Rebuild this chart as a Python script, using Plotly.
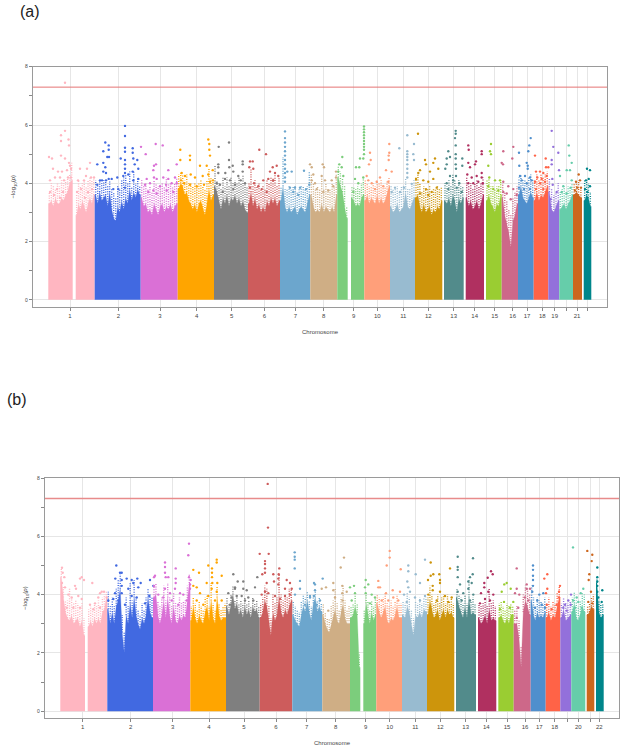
import plotly.graph_objects as go

CHROMS = [str(i) for i in range(1, 23)]
COLORS = ["#FFB6C1", "#4169E1", "#DA70D6", "#FFA500", "#7F7F7F", "#CD5C5C", "#6CA6CD", "#CFAE85", "#7CCD7C", "#FF9F7A", "#98BBD0",
          "#CD950C", "#528B8B", "#B03060", "#9ACD32", "#CD6889", "#4F8FCD", "#FF6347", "#9370DB", "#66CDAA", "#CD661D", "#00868B"]

# ---------- panel (a): tick positions, labels, contiguous blocks (chromosome index, start, end, solid-top profile)
A_TICKS = [70, 118.3, 160, 196.7, 231.7, 264.3, 295.3, 323.7, 353.7, 377.3, 403.3, 428.3, 453.7, 474.7, 494.7, 512.7, 527, 542.3, 554.7, 566, 577, 587.3]
A_LABELS = ["1","2","3","4","5","6","7","8","9","10","11","12","13","14","15","16","17","18","19","","21",""]
A_BLOCK_CHR = [0,0,1,2,3,4,5,6,7,8,8,9,10,11,12,13,14,15,16,17,18,19,20,21]
A_BLOCK_START = [48.3,75.7,94.7,140.7,177.7,214,248,280,310.3,337.3,351,364.3,390,415,444,465.7,486,501.7,518,533.7,548.3,559.3,573,583.7]
A_BLOCK_END = [72.7,94.7,140.7,177.7,214,248,280,310.3,337.3,347.7,364.3,390,415,442.3,463.7,484,501.7,518,533.7,548.3,559.3,573,582,591.3]
A_TOPS = [
 [3.3,3.4,3.2,3.5,3.3,3.3,3.5,3.4,3.6,3.7,4.0,4.1],
 [2.9,3.3,3.1,3.4,3.2,3.0,3.3,3.5,3.3,3.6],
 [3.6,3.3,3.7,3.4,3.5,3.6,3.2,3.7,3.1,2.8,2.7,3.2,3.0,3.4,3.1,3.5,3.3,3.8,3.4,3.7,3.5,3.8,3.6],
 [3.5,3.2,3.3,3.0,3.1,2.9,3.3,3.1,2.9,3.2,3.3,3.0,3.2,3.1,3.3,3.0,3.2,3.3],
 [3.8,4.0,3.9,3.6,3.7,3.4,3.3,3.1,3.3,3.0,3.3,3.4,3.1,2.9,3.3,3.8,3.4,3.6],
 [3.9,3.7,3.4,3.1,3.5,3.3,3.6,3.2,3.5,3.4,3.6,3.3,3.5,3.2,3.4,3.1,3.0],
 [3.3,3.7,3.2,3.5,3.1,3.3,3.0,3.2,3.0,3.4,3.2,3.5,3.3,3.5,3.2,3.4],
 [3.4,3.9,3.2,3.0,3.2,3.0,3.1,3.2,2.9,3.1,3.2,3.1,3.0,3.3,3.6],
 [3.6,3.2,3.0,3.1,3.0,3.3,3.0,3.2,3.1,3.0,3.2,3.0,3.6],
 [4.2,3.9,3.7,3.2,2.8],
 [3.5,3.4,3.2,3.3,3.2,3.5,3.6],
 [3.4,3.6,3.3,3.5,3.4,3.3,3.6,3.3,3.5,3.3,3.4,3.7,3.9],
 [3.2,3.0,3.1,3.3,3.0,3.1,3.2,3.7,3.2,3.1,3.3,3.5],
 [3.5,3.6,3.2,3.0,3.3,3.0,3.1,3.2,2.9,3.1,3.0,3.2,3.1,3.4],
 [3.4,3.3,3.5,3.2,3.6,3.4,3.0,3.5,3.3,3.5],
 [3.5,3.2,3.4,3.1,3.2,3.4,3.1,3.3,3.6],
 [3.4,3.6,3.3,3.2,3.0,3.3,3.2,3.6],
 [3.5,2.9,2.6,2.3,1.8,2.7,2.9,3.3],
 [3.6,3.9,3.5,3.4,3.3,3.5,3.7,3.5],
 [3.4,3.7,3.4,3.6,3.5,3.7,3.9],
 [3.7,3.1,3.0,3.2,3.4],
 [3.1,3.2,3.3,3.1,3.3,3.4,3.6],
 [3.6,3.7,3.6,3.5],
 [3.4,3.6,3.5,3.2],
]
# upper edge of the dense speckled band above the solid mass, same bins as the solid tops
A_BAND = [
 [3.7,4.0,3.9,3.8,4.0,3.9,4.1,4.0,4.1,4.2,4.3,4.7],
 [3.6,4.1,3.9,4.0,4.1,3.9,4.1,4.2,4.1,4.2],
 [4.1,3.9,4.1,4.0,4.1,4.1,3.9,4.1,3.8,3.7,3.5,3.9,3.8,4.1,4.2,4.3,4.0,4.4,3.9,4.4,4.0,4.2,3.9],
 [4.1,3.9,4.0,3.8,3.9,3.7,4.1,4.0,3.9,3.9,4.0,3.9,4.2,4.0,4.0,3.9,4.0,4.2],
 [4.3,4.4,4.3,4.1,4.3,4.0,4.0,3.9,4.0,3.9,4.0,4.1,3.9,3.8,4.1,4.5,4.2,4.1],
 [4.6,4.1,4.0,3.8,4.2,3.9,4.2,3.9,4.2,4.0,4.1,4.0,4.2,4.0,4.3,4.0,3.9],
 [4.0,4.5,3.9,4.1,3.9,4.0,3.8,3.9,3.8,4.1,4.0,4.2,4.2,4.4,3.9,4.2],
 [3.9,4.9,3.8,3.8,3.9,3.8,3.9,3.9,3.7,3.8,3.9,3.9,3.8,3.9,4.4],
 [4.3,4.0,3.8,3.9,3.8,4.2,3.8,4.0,3.8,3.8,4.0,3.9,4.3],
 [4.6,4.4,4.2,3.9,3.2],
 [3.9,3.9,3.8,3.9,3.8,4.0,4.2],
 [4.1,4.0,3.9,3.9,4.0,3.9,4.1,4.0,4.1,3.9,3.9,4.1,4.2],
 [3.9,3.8,3.9,3.9,3.7,3.9,3.9,4.2,3.8,3.8,4.0,4.1],
 [4.2,4.3,4.0,3.7,3.9,3.8,3.8,3.9,3.6,3.8,3.8,3.9,3.8,3.9],
 [4.0,3.9,4.1,3.9,4.3,4.1,3.9,4.1,3.9,3.9],
 [4.2,3.9,4.0,3.8,4.0,4.1,3.9,4.0,4.2],
 [4.1,4.2,3.9,3.9,3.8,3.9,3.9,4.1],
 [4.0,3.7,3.4,3.1,2.9,3.5,3.7,3.9],
 [4.2,4.3,4.1,4.1,4.0,4.2,4.3,4.1],
 [4.1,4.3,4.1,4.3,4.2,4.3,4.4],
 [4.2,3.8,3.6,3.7,4.0],
 [3.7,3.8,3.9,3.7,3.9,3.9,4.0],
 [4.0,4.1,4.1,3.9],
 [4.1,4.1,4.0,3.7],
]

# points above the solid mass, panel (a): (position, -log10 p)
a01 = [(65,7.45),(61,5.65),(65,5.8),(68.5,5.5),(69,5.3),(61,5.45),(49,4.9),(52,4.85),(61,4.95),(65,4.85),(69,4.7),(70,4.6),(53,4.5),(58,4.4),(62,4.4),(67,4.45),(71,4.5),(50,4.1),(55,4.2),(60,4.2),(64,4.1),(68,4.2),(71,4.2),(80,4.5),(87,4.5),(90,4.7),(78,4.1),(84,4.1),(86,4.25),(91,4.2),(94,4.2),(50,3.7),(54,3.6),(57,3.8),(60,3.5),(63,3.7),(77,3.7),(81,3.8),(85,3.5),(88,3.7),(92,3.8)]
a02 = [(105.3,5.4),(108.7,5.3),(108.7,5.15),(103.3,5.1),(107.3,4.9),(109,4.9),(125,5.97),(125,5.62),(125,5.22),(125,5.08),(132.7,5.2),(132.7,5.05),(120.7,4.85),(125,4.8),(125,4.65),(125,4.5),(125,4.35),(133.3,4.85),(137.3,4.8),(134.7,4.65),(132.7,4.4),(138.3,4.5),(97.3,4.65),(103.3,4.7),(105.3,4.55),(103.3,4.4),(106,4.35),(100,4.1),(102,4.1),(106,4.1),(108.7,4.15),(111.7,4.15),(117.3,4.2),(123.3,4.25),(128.3,4.3),(133.3,4.1),(138.3,4.15),(97.3,3.95),(113.3,3.8),(118.3,3.8),(125,3.85)]
a03 = [(141,5.25),(155.7,5.35),(162.7,5.3),(145.7,5.0),(156,4.65),(154,4.6),(153.3,4.45),(168.3,4.45),(176.7,4.65),(146.7,4.15),(154,4.2),(156.7,4.15),(163.3,4.2),(168.3,4.15),(175,4.2),(145,3.95),(150,4),(160,3.9),(166,3.95),(171.7,4),(176.7,4),(148.3,3.7),(153.3,3.75),(156.7,3.65),(166.7,3.75),(173.3,3.7)]
a04 = [(180.3,5.15),(190,4.95),(190,4.8),(180.3,4.8),(208.3,5.5),(209.3,5.35),(209.3,5.15),(210,4.95),(200,4.6),(206.7,4.6),(212.7,4.45),(181.7,4.35),(185,4.25),(190.7,4.3),(195,4.2),(202.7,4.25),(208.3,4.3),(181,4.1),(184,4.0),(190,3.95),(196.7,3.9),(204,3.95),(210,4.05),(213,4.1)]
a05 = [(218.7,5.25),(229,5.4),(229,4.8),(218.3,4.65),(218.3,4.55),(218.3,4.35),(242.7,4.75),(242.7,4.65),(242.7,4.4),(232.7,4.6),(233.3,4.4),(225.3,4.35),(229.3,4.55),(238.3,4.25),(216.7,4.0),(220,3.95),(225,4.15),(230,4.1),(235,3.95),(240.7,4.1),(245,4.0),(222.7,3.7),(233.3,3.8)]
a06 = [(259.3,5.15),(266,5.0),(250,4.75),(252.7,4.75),(249.3,4.55),(253.3,4.5),(276.7,4.6),(272.7,4.55),(270,4.4),(275,4.35),(278.3,4.25),(254,4.0),(258.3,3.9),(263.3,4.1),(268.3,4.15),(273.3,4.1),(250,3.85),(261.7,3.8),(266.7,3.7)]
a07 = [(285,5.78),(285,5.55),(285,5.4),(285,5.25),(285,5.1),(285,4.95),(285,4.8),(285,4.65),(285,4.5),(285,4.35),(285,4.2),(285,4.05),(291.7,4.4),(287.3,4.4),(304,4.43),(290,3.85),(295,3.85),(300,3.85),(306,3.8),(309.3,3.95),(293.3,3.7),(298.3,3.6)]
a08 = [(310,4.65),(311.7,4.55),(313.3,4.3),(322.7,4.65),(324,4.55),(336,4.4),(311.7,4.1),(315,4.0),(321.7,4.25),(325,4.1),(331.7,4.1),(336,4.2),(316.7,3.8),(323.3,3.7),(328.3,3.75),(333.3,3.9)]
a09 = [(339.3,4.65),(342.3,4.9),(341.7,4.55),(338.3,4.4),(343.3,4.25),(356,4.55),(359.3,4.55),(355,4.15),(360,4.85),(364,5.95),(364,5.85),(364,5.75),(364,5.65),(364,5.55),(364,5.45),(364,5.35),(364,5.25),(364,5.15),(364,5.0),(363.3,4.85),(363.3,4.2),(358.3,4),(353.3,3.7)]
a10 = [(389.3,5.35),(389.3,5.05),(388.7,4.95),(388.7,4.8),(370,5.05),(370.7,4.8),(369,4.65),(386,4.45),(391.7,4.4),(366.7,4.25),(368.3,4.1),(371.7,4),(380,4.2),(376.7,4.05),(383.3,3.9),(388.3,4.05),(375,3.8)]
a11 = [(407.3,5.65),(407.3,5.1),(407.3,5.0),(407.3,4.9),(407.3,4.8),(407.3,4.65),(407.3,4.5),(407.3,4.35),(407.3,4.2),(399.3,5.2),(414,5.35),(413.3,5),(414,4.8),(395,3.85),(400,3.7),(411.7,3.98),(391.7,3.7),(404,3.85)]
a12 = [(418,5.7),(425,4.8),(435,4.85),(433.3,4.7),(426,4.65),(420,4.45),(418.3,4.35),(430,4.4),(438.3,4.5),(416,4.15),(423.3,4.1),(428.3,4.05),(433.3,4.15),(426,3.8),(431.7,3.7),(436.7,3.85),(428.3,3.6),(420,3.65)]
a13 = [(455.7,5.8),(455.7,5.7),(455,5.55),(455.7,5.3),(448.3,5.1),(455.7,5),(450,4.9),(446.7,4.85),(455.7,4.85),(455.7,4.65),(446.7,4.65),(462.3,4.85),(462.3,4.6),(456,4.5),(456,4.25),(445.3,4.5),(450,4.25),(446.7,4),(453.3,4.1),(459.3,4),(448.3,3.8),(456.7,3.85),(461.7,3.7)]
a14 = [(468.3,5.3),(468.7,5.15),(481.7,5.1),(481.7,5),(476,4.75),(468.3,4.7),(470,4.55),(475,4.65),(481.7,4.35),(467.3,4.3),(471.7,4.2),(476.7,4.25),(481.7,4.2),(468.3,4),(473.3,4),(478.3,4.05),(482.7,4)]
a15 = [(491,5.35),(490,5.1),(491,5),(488.3,4.6),(489.3,4.2),(495,4.1),(500,4.1),(488.3,3.9),(493.3,3.8),(498.3,3.75)]
a16 = [(503.3,5.1),(501.7,4.7),(503,4.65),(513.3,5.25),(512.3,4.85),(503.3,4.05),(508.3,3.9),(503.3,3.7),(513.3,3.8),(506.7,3.65),(516.7,3.6),(510.7,3.45)]
a17 = [(530.7,5.55),(529.3,5.3),(528.3,5.1),(519,5.05),(526.7,4.7),(527.7,4.6),(527.7,4.5),(519.3,4.6),(520,4.25),(525,4.25),(530,4.2),(521.7,4.1),(526.7,4),(531.7,4.1),(519,3.85),(524,3.8),(530,3.8)]
a18 = [(535,4.95),(545.7,4.85),(548.3,4.55),(546,4.55),(536,4.4),(540,4.4),(543.3,4.35),(537.3,4.2),(541.7,4.15),(546.7,4.25),(535,4.05),(540,4),(545,4.05),(536,3.8),(543.3,3.8)]
a19 = [(551.7,5.8),(553.3,5.25),(551.7,4.8),(551.7,4.65),(558.3,5.05),(559,4.45),(552.3,4.15),(552.7,3.95),(556.7,3.7),(550.7,3.45)]
a20 = [(568.7,5.3),(569.3,4.95),(571.7,4.7),(566.7,4.45),(570,4.45),(560,4.25),(563.3,3.9),(571.7,4.1),(566.7,3.65),(561.7,3.7),(570.7,3.85)]
a21 = [(578.7,4.3),(576,4.05),(580,4.1),(577.3,3.85),(575,3.75),(581,3.85)]
a22 = [(587,4.5),(590,4.45),(586,4.1),(588.7,4.15),(590,3.9),(585,3.8),(587.3,3.7)]
A_POINTS = [a01,a02,a03,a04,a05,a06,a07,a08,a09,a10,a11,a12,a13,a14,a15,a16,a17,a18,a19,a20,a21,a22]

# ---------- panel (b)
B_TICKS = [82.7, 130.7, 172.7, 209, 244, 276, 306.7, 335.7, 365.7, 389.7, 415.3, 440.3, 465.7, 486.3, 507, 525, 539.3, 554.7, 567, 578.3, 590.3, 599.3]
B_LABELS = ["1","2","3","4","5","6","7","8","9","10","11","12","13","14","15","16","17","18","","20","","22"]
B_BLOCK_CHR = [0,0,1,2,3,4,5,6,7,8,8,9,10,11,12,13,14,15,16,17,18,19,20,21]
B_BLOCK_START = [60.3,87.7,107.3,153,190.3,226,259.7,292.3,322.3,350,363.3,376.3,402,427,456,478,498.3,513.7,530.7,545.7,560.3,571.3,586.7,596]
B_BLOCK_END = [85,107.3,153,190.3,226,259.7,292.3,322.3,350,360.3,376.3,402,427,454.3,476,496.3,513.7,530.7,545.7,560.3,571.3,585.3,594.3,603.7]
B_TOPS = [
 [4.6,3.9,3.4,3.2,3.1,3.3,3.0,3.1,3.2,2.9,3.1,2.6],
 [2.9,3.1,2.9,3.2,3.0,3.2,3.0,3.4,3.5,3.9],
 [3.5,3.0,3.4,3.0,3.6,3.8,4.2,2.7,2.0,3.3,3.0,3.7,3.2,3.9,3.3,3.0,2.8,3.2,3.0,3.3,3.9,3.4,3.2],
 [3.9,4.0,3.3,3.0,3.3,3.8,3.2,3.9,3.3,3.0,3.6,3.1,3.0,3.3,3.1,3.3,3.2,3.8,4.4],
 [3.1,3.6,3.2,3.0,3.3,3.1,3.0,3.4,3.6,3.1,3.8,3.2,3.0,3.9,3.3,3.1,3.2,3.2],
 [3.6,3.3,3.7,4.0,3.5,3.7,3.3,3.5,3.2,3.6,3.3,3.5,3.2,3.6,3.4,3.5,3.2],
 [3.2,3.4,3.8,3.6,3.0,2.6,3.4,3.1,3.3,3.9,3.4,3.2,3.5,3.3,3.6,3.8],
 [3.3,3.1,3.0,2.9,3.3,3.6,3.4,3.8,3.4,3.1,3.7,3.9,3.4,3.6,3.4],
 [3.3,3.0,2.8,2.7,3.0,3.2,3.5,3.1,3.0,3.4,3.7,3.2,3.0,3.0],
 [3.2,3.3,3.6,3.3,1.5],
 [3.0,3.7,3.3,3.0,3.4,3.1,3.3],
 [3.7,3.4,3.2,3.4,3.6,3.1,3.0,3.2,3.1,3.3,3.6,3.2,3.2],
 [3.3,3.2,3.6,3.4,3.0,2.6,3.3,3.2,3.4,3.2,3.5,3.4],
 [3.3,3.8,3.5,3.2,3.3,3.5,3.1,3.3,3.5,3.2,3.5,3.3,3.4,3.2],
 [3.9,3.6,3.4,3.2,3.6,3.2,3.9,3.3,3.4,3.3],
 [3.2,3.0,3.1,3.3,3.0,3.5,3.1,3.2,3.1],
 [3.2,3.3,3.1,3.0,3.2,3.0,3.3,3.3],
 [3.0,3.0,2.5,1.5,3.4,3.8,3.6,3.3],
 [3.8,3.3,3.1,3.4,3.2,3.3,3.2,3.4],
 [3.2,3.4,3.1,3.3,3.2,3.6,3.9],
 [3.2,3.5,3.1,3.2,3.3],
 [3.4,3.7,3.2,3.1,3.4,3.6,3.4],
 [3.3,3.4,3.6,3.5],
 [4.4,3.4,3.2,3.3],
]
B_BAND = [
 [4.9,4.3,3.8,3.8,4.2,3.9,3.7,3.8,3.7,3.5,3.7,3.2],
 [3.5,3.6,3.5,3.7,3.6,3.8,3.6,3.9,4.0,4.1],
 [4.1,3.6,3.9,3.6,4.2,4.5,4.7,3.3,2.7,3.9,3.6,4.4,3.8,4.5,3.9,3.5,3.3,3.7,3.5,3.9,4.2,4.0,3.9],
 [4.3,4.4,3.8,3.6,3.9,4.3,3.8,4.4,3.9,3.6,4.1,3.7,3.6,3.9,3.7,3.8,3.8,4.3,4.7],
 [3.6,3.9,3.7,3.5,3.8,3.6,3.5,3.9,4.0,3.6,4.4,3.7,3.5,4.3,3.7,3.5,3.6,3.7],
 [3.9,3.7,4.0,4.3,3.8,4.0,3.7,3.8,3.7,3.9,3.7,3.8,3.6,3.9,3.7,3.8,3.6],
 [3.7,3.9,4.3,4.2,3.6,3.2,4.0,3.7,3.9,4.7,4.0,3.8,4.0,3.9,4.2,4.2],
 [3.8,3.6,3.5,3.4,3.8,4.0,3.9,4.1,3.8,3.6,4.0,4.1,3.8,3.9,3.7],
 [3.7,3.4,3.2,3.2,3.6,3.8,4.2,3.7,3.5,3.9,4.3,3.8,3.5,3.6],
 [3.6,3.7,4.0,3.7,2.0],
 [3.5,4.0,3.8,3.5,3.8,3.6,3.9],
 [4.0,3.9,3.7,3.9,4.1,3.7,3.6,3.8,3.6,3.8,4.0,3.7,3.7],
 [3.8,3.7,4.1,3.9,3.5,3.2,3.8,3.7,3.9,3.7,3.9,3.9],
 [3.9,4.3,4.0,3.7,3.8,4.0,3.7,3.9,4.0,3.7,4.0,3.8,3.9,3.7],
 [4.2,4.0,3.9,3.7,4.0,3.7,4.5,3.8,3.9,3.7],
 [3.7,3.6,3.7,3.8,3.6,4.2,3.7,3.8,3.6],
 [3.7,3.8,3.6,3.5,3.7,3.6,3.7,3.6],
 [3.5,3.6,3.1,2.2,4.0,4.3,4.2,4.0],
 [4.3,3.9,3.6,3.9,3.8,3.8,3.7,3.9],
 [3.7,3.9,3.6,3.8,3.7,4.1,4.3],
 [3.7,3.9,3.7,3.7,3.8],
 [3.9,4.1,3.8,3.6,3.8,4.1,4.0],
 [3.6,3.7,3.9,4.0],
 [4.6,3.8,3.7,3.7],
]
b01 = [(62,4.92),(62.7,4.75),(64.3,4.6),(62,4.4),(65,4.25),(75,4.3),(76,4.2),(81.7,4.6),(80,4.55),(84,4.5),(92.3,4.4),(101.7,4.1),(100,4.05),(104,4.1),(68.3,4),(71.7,3.9),(78.3,3.95),(81.7,3.85),(90,3.65),(95,3.7),(98.3,3.9),(106.7,3.9),(66.7,3.55),(73.3,3.55),(80,3.55),(93.3,3.5),(100,3.55)]
b02 = [(116.3,5),(120,4.75),(121.7,4.75),(115.3,4.55),(126.7,4.55),(131.7,4.5),(137.3,4.55),(133.3,4.4),(140.7,4.4),(121.7,4.5),(121.7,4.3),(150,4.5),(153.3,4.3),(138.3,4.25),(128.3,4.2),(121.7,4.05),(115,4.05),(108.3,3.8),(113.3,3.85),(118.3,3.8),(131.7,3.95),(136.7,3.9),(149.3,3.95),(145,3.7),(125,3.65)]
b03 = [(154,4.6),(155,4.65),(154,4.3),(165,5.1),(165,4.95),(175.7,4.9),(165,4.75),(165.7,4.6),(175.7,4.55),(175.7,4.4),(168.3,4.6),(189,5.75),(188.3,5.35),(189,4.6),(190.7,4.5),(190,4.35),(165,4.2),(170,4.05),(175,4.2),(180,4.05),(183.3,4),(190,4.2),(158.3,4),(163.3,3.9),(171.7,3.8),(178.3,3.65),(186.7,3.8)]
b04 = [(216.7,5.2),(216.7,5.1),(208.3,5.0),(212,4.9),(193.3,4.85),(199,4.75),(212,4.75),(212,4.6),(221.7,4.65),(212.3,4.4),(193.3,4.3),(196.7,4.25),(206.7,4.4),(217.3,4.4),(200,4.05),(211.7,4.2),(216.7,4.1),(196.7,3.8),(208.3,3.95),(221.7,3.8),(203.3,3.65),(215,3.8)]
b05 = [(233.3,4.7),(237.7,4.45),(243.3,4.45),(235,4.25),(235,4.2),(243.3,4.2),(246.7,4.15),(228.3,4.05),(255,4.25),(257.3,4.6),(231.7,3.9),(236.7,3.95),(241.7,3.95),(248.3,3.9),(253.3,3.8),(245,3.8),(230,3.65)]
b06 = [(267.7,7.8),(268,6.3),(259.7,5.4),(268.7,5.4),(265,5.15),(265,5.05),(265,4.9),(265,4.75),(279.3,4.9),(278.7,4.7),(262.3,4.7),(273.3,4.7),(278.3,4.55),(274,4.45),(278.3,4.35),(286.7,4.5),(290,4.4),(266.7,4.4),(265,4.1),(268.3,4.05),(261.7,4),(285,4.2),(291.7,4.2),(290,4),(275,3.95),(280,3.85),(285,3.95)]
b07 = [(294.7,5.45),(294.7,5.3),(294.7,5.2),(294.7,4.9),(300,4.47),(314,4.4),(300,4.2),(295,4),(310,3.9),(314,3.95),(305,3.65),(316.7,3.65),(315,4.35),(322.7,4.55),(315,4.15),(310,3.95),(320,3.8)]
b08 = [(344,5.27),(340.7,4.93),(333.3,4.4),(321.7,4.2),(326,4.25),(342.3,4.3),(333.3,4.15),(342.3,4.05),(335,3.9),(342.7,3.8),(328.3,3.45),(346.7,4.1)]
b09 = [(354,4.3),(350,4.25),(355,4.05),(365.7,4.5),(368.3,4.35),(365,4.25),(365.7,4.05),(371.7,4),(375,3.9),(370,3.7),(351.7,3.8)]
b10 = [(389.7,5.5),(389.7,5.27),(386.7,5),(400.7,4.87),(378.3,4.47),(378.3,4.25),(380,4.25),(392.7,4.15),(386,4.05),(400,4.1),(393.3,3.9),(398.3,3.8),(381.7,3.8),(388.3,3.8)]
b11 = [(408.3,5),(408.3,4.8),(415.7,4.7),(425,5.2),(407.3,4.45),(408.3,4.25),(420,4.4),(404,4),(410,4.1),(415,3.9),(425,3.95),(420,3.8),(406.7,3.75)]
b12 = [(430.7,5.1),(450,4.9),(433.3,4.7),(430.7,4.65),(439.3,4.7),(428,4.5),(440,4.5),(440,4.4),(432.7,4.3),(432.7,4.15),(428.3,4),(440,4.1),(445,3.95),(451.7,3.9),(436.7,3.8),(448.3,3.75)]
b13 = [(457.7,5.3),(473,5.25),(457.7,4.95),(457.7,4.85),(457.7,4.6),(472.7,4.7),(470,4.6),(468.3,4.45),(471.7,4.4),(460,4.35),(457.7,4.1),(463.3,4.05),(468.3,4.2),(473.3,4),(461.7,3.8),(470,3.8)]
b14 = [(491,4.8),(487.7,4.58),(492.7,4.7),(484.3,4.4),(484.3,4.25),(488.3,4.1),(481,4.05),(493.3,4),(485,3.85),(490,3.8),(480,3.7)]
b15 = [(506.7,4.4),(504.3,4.35),(510.7,4.2),(501.7,4.1),(504,3.75),(513.3,3.75),(510,3.55),(500,3.5)]
b16 = [(516.7,4.9),(516.7,4.2),(515,4.05),(519.3,4),(526.7,4.35),(526.7,4.2),(530,4.2),(525,3.9),(518.3,3.55),(528.3,3.8),(516.7,3.2)]
b17 = [(533,5),(533,4.85),(533,4.65),(533,4.5),(533,4.3),(532.3,4.1),(539.3,4),(543.3,4.05),(537.3,3.8),(541.7,3.65),(535,3.55),(545,3.55)]
b18 = [(547.3,4.7),(544.3,4.55),(547.3,4.2),(546,4.05),(560,4.3),(559,4.1),(559,3.9),(546.7,3.65),(551.7,3.5),(556.7,3.65)]
b19 = [(571,4),(565,3.65),(568.3,3.8),(563.3,3.55),(566.7,3.45),(570.7,3.65)]
b20 = [(573,5.62),(583.3,4.2),(580.7,4.05),(576.7,3.9),(573.3,3.8),(578.3,3.75),(575,3.55),(581.7,3.55)]
b21 = [(587.3,5.5),(592.3,5.37),(591.7,5.15),(589.3,4.7),(588.7,4.5),(591,4.1),(588.3,3.75),(592.3,3.7)]
b22 = [(597.3,4.93),(597.3,4.6),(597.3,4.45),(597.3,4.3),(597.3,4.1),(602.3,4.15),(601.7,3.75),(598.3,3.9)]
B_POINTS = [b01,b02,b03,b04,b05,b06,b07,b08,b09,b10,b11,b12,b13,b14,b15,b16,b17,b18,b19,b20,b21,b22]

THRESHOLD = 7.3
Y_TICKS = [0, 2, 4, 6, 8]
Y_MINOR = [1, 3, 5, 7]
W, H = 622, 750
FONT = "Liberation Sans, Arial, sans-serif"

fig = go.Figure()


def add_panel(xa, ya, block_chr, starts, ends, tops, bands, points):
    for c, s, e, t, b in zip(block_chr, starts, ends, tops, bands):
        n = len(t)
        centers = [s + (e - s) * (i + 0.5) / n for i in range(n)]
        fig.add_trace(go.Scatter(
            x=[s] + centers + [e], y=[t[0]] + t + [t[-1]], mode="lines", fill="tozeroy", fillcolor=COLORS[c],
            line=dict(color=COLORS[c], width=0.3), xaxis=xa, yaxis=ya, hoverinfo="skip", showlegend=False))
        # dotted columns of the speckled band between solid top and band edge
        sx, sy = [], []
        for cx, lo, hi in zip(centers, t, b):
            sx += [cx, cx, None]
            sy += [lo, hi, None]
        fig.add_trace(go.Scatter(
            x=sx, y=sy, mode="lines", line=dict(color=COLORS[c], width=1.4, dash="1px,1.4px"),
            xaxis=xa, yaxis=ya, hoverinfo="skip", showlegend=False))
    for c, pts in enumerate(points):
        fig.add_trace(go.Scatter(
            x=[p[0] for p in pts], y=[p[1] for p in pts], mode="markers", name=CHROMS[c],
            marker=dict(color=COLORS[c], size=2.4, line=dict(width=0)),
            xaxis=xa, yaxis=ya, showlegend=False))


add_panel("x", "y", A_BLOCK_CHR, A_BLOCK_START, A_BLOCK_END, A_TOPS, A_BAND, A_POINTS)
add_panel("x2", "y2", B_BLOCK_CHR, B_BLOCK_START, B_BLOCK_END, B_TOPS, B_BAND, B_POINTS)


def xaxis(left, right, ticks, labels):
    labelled = [(t, l) for t, l in zip(ticks, labels) if l]
    unlabelled = [t for t, l in zip(ticks, labels) if not l]
    return dict(domain=[left / W, right / W], range=[left, right], tickmode="array",
                tickvals=[t for t, _ in labelled], ticktext=[l for _, l in labelled],
                ticks="outside", ticklen=3, tickwidth=0.7, tickcolor="#888", showgrid=True, gridcolor="#e6e6e6", gridwidth=0.7,
                minor=dict(tickmode="array", tickvals=unlabelled, ticks="outside", ticklen=3, tickwidth=0.7, tickcolor="#888",
                           showgrid=True, gridcolor="#e6e6e6", gridwidth=0.7),
                zeroline=False, showline=True, linecolor="#9a9a9a", linewidth=1.3, mirror=True,
                tickfont=dict(size=6, color="#444", family=FONT),
                title=dict(text="Chromosome", font=dict(size=6, color="#444", family=FONT), standoff=11))


def yaxis(top, bottom, anchor):
    return dict(domain=[1 - bottom / H, 1 - top / H], range=[-0.24, 8], anchor=anchor, tickmode="array", tickvals=Y_TICKS,
                ticks="outside", ticklen=3, tickwidth=0.7, tickcolor="#888", showgrid=True, gridcolor="#e6e6e6", gridwidth=0.7,
                minor=dict(tickmode="array", tickvals=Y_MINOR, ticks="outside", ticklen=3, tickwidth=0.7, tickcolor="#888", showgrid=False),
                zeroline=False, showline=True, linecolor="#9a9a9a", linewidth=1.3, mirror=True,
                tickfont=dict(size=5, color="#444", family=FONT),
                title=dict(text="\u2212log<sub>10</sub>(<i>p</i>)", font=dict(size=6, color="#444", family=FONT), standoff=8))


fig.update_layout(
    width=W, height=H, autosize=False, margin=dict(l=0, r=0, t=0, b=0), paper_bgcolor="white", plot_bgcolor="white",
    xaxis=xaxis(33, 607, A_TICKS, A_LABELS), yaxis=yaxis(64, 305, "x"),
    xaxis2=dict(xaxis(45, 619, B_TICKS, B_LABELS), anchor="y2"), yaxis2=yaxis(477, 718, "x2"),
    shapes=[
        dict(type="line", xref="x domain", yref="y", x0=0, x1=1, y0=THRESHOLD, y1=THRESHOLD, line=dict(color="#E57373", width=1)),
        dict(type="line", xref="x2 domain", yref="y2", x0=0, x1=1, y0=THRESHOLD, y1=THRESHOLD, line=dict(color="#E88B8B", width=1.6)),
    ],
    annotations=[
        dict(text="(a)", xref="paper", yref="paper", x=29.5 / W, y=1 - 9 / H, showarrow=False, xanchor="center", yanchor="middle", font=dict(size=16, color="#222", family=FONT)),
        dict(text="(b)", xref="paper", yref="paper", x=17 / W, y=1 - 398 / H, showarrow=False, xanchor="center", yanchor="middle", font=dict(size=16, color="#222", family=FONT)),
    ],
)

fig.write_html("out.html", config=dict(displayModeBar=False), post_script="document.body.style.margin='0';")
